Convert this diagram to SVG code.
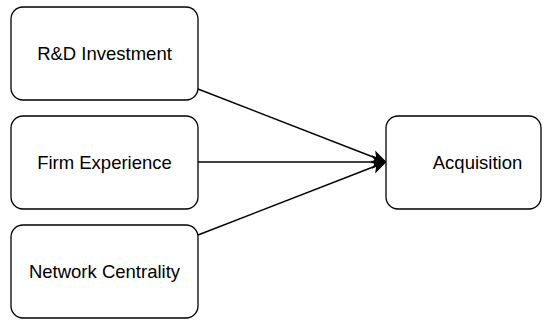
<svg xmlns="http://www.w3.org/2000/svg" width="544" height="320" viewBox="0 0 544 320">
<style>
.box{fill:#fff;stroke:#000;stroke-width:1.3}
.lbl{font-family:"Liberation Sans",Arial,sans-serif;font-size:18.5px;fill:#000;text-anchor:middle;dominant-baseline:central}
.edge{stroke:#000;stroke-width:1.5;fill:none}
</style>
<defs>
<marker id="arr" viewBox="0 0 10 10" refX="9.5" refY="5" markerWidth="15" markerHeight="15" markerUnits="userSpaceOnUse" orient="auto">
<path d="M0,0.5 L10,5 L0,9.5 L2.5,5 Z" fill="#000"/>
</marker>
</defs>
<rect width="544" height="320" fill="#fff"/>
<g id="connectors">
<line class="edge" x1="198" y1="89" x2="386" y2="162" marker-end="url(#arr)"/>
<line class="edge" x1="198" y1="162" x2="386" y2="162" marker-end="url(#arr)"/>
<line class="edge" x1="198" y1="235" x2="386" y2="162" marker-end="url(#arr)"/>
</g>
<g id="rd">
<rect class="box" x="11" y="7" width="187" height="93" rx="12"/>
<text class="lbl" x="104.5" y="53.5">R&amp;D Investment</text>
</g>
<g id="exp">
<rect class="box" x="11" y="116" width="187" height="93" rx="12"/>
<text class="lbl" x="104.5" y="162.5">Firm Experience</text>
</g>
<g id="net">
<rect class="box" x="11" y="225" width="187" height="93" rx="12"/>
<text class="lbl" x="104.5" y="271.5">Network Centrality</text>
</g>
<g id="acq">
<rect class="box" x="386" y="116" width="155" height="93" rx="12"/>
<text class="lbl" x="477.5" y="162.5">Acquisition</text>
</g>
</svg>
